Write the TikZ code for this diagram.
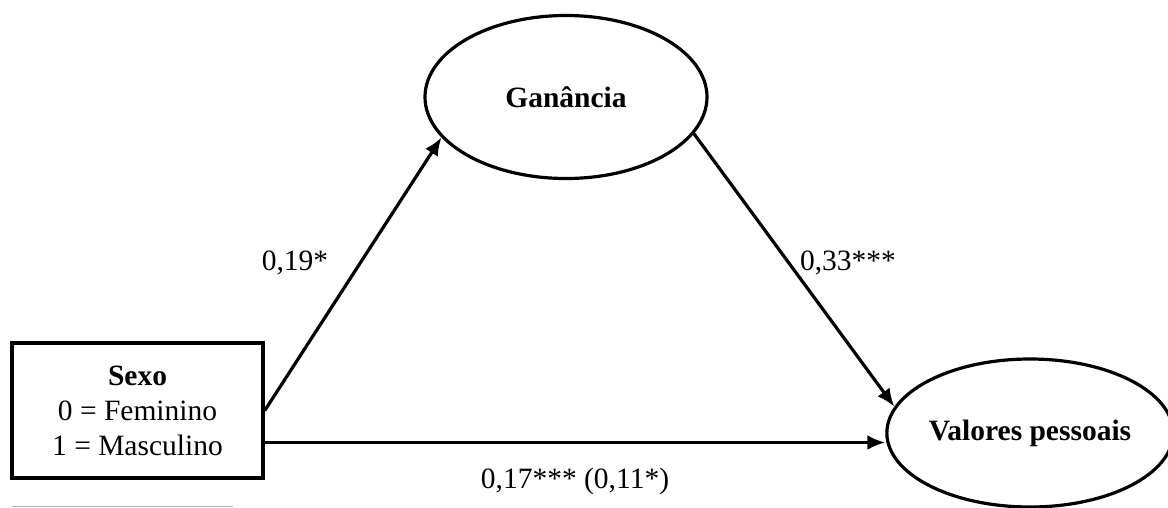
\documentclass[tikz,border=0pt]{standalone}
\usepackage{fontspec}
\setmainfont{Liberation Serif}
\usetikzlibrary{shapes.geometric,arrows.meta}
\tikzset{
  varbox/.style={draw, line width=3.5pt, minimum width=251pt, minimum height=135pt, inner sep=0pt, align=center, font=\fontsize{29.5}{35}\selectfont},
  latent/.style={draw, ellipse, line width=3.2pt, inner sep=0pt, font=\fontsize{29.5}{35}\selectfont\bfseries},
  path/.style={line width=3.2pt, -{Latex[length=18pt,width=15pt]}},
  coef/.style={anchor=base, inner sep=0pt, font=\fontsize{29.5}{35}\selectfont}
}
\begin{document}
\begin{tikzpicture}[x=1pt,y=-1pt]
\useasboundingbox (0,0) rectangle (1168,507);
\node[varbox] (sexo) at (137.5,410.5) {\textbf{Sexo}\\0 = Feminino\\1 = Masculino};
\node[latent, minimum width=282pt, minimum height=163pt] (gan) at (566,97) {Ganância};
\node[latent, minimum width=272pt, minimum height=148pt] (val) at (1030,433) {Valores pessoais};
\coordinate (h) at ([yshift=-32pt]sexo.east);
\draw[path] (sexo.east) -- (gan.198);
\draw[path] (gan.344) -- (val.169);
\draw[path] (h) -- (h -| val.west);
\node[coef] (c1) at (295,270) {0,19*};
\node[coef] (c2) at (848,270) {0,33***};
\node[coef] (c3) at (575,488) {0,17*** (0,11*)};
\draw[gray!60, line width=1pt] (12,506) -- (233,506);
\end{tikzpicture}
\end{document}
